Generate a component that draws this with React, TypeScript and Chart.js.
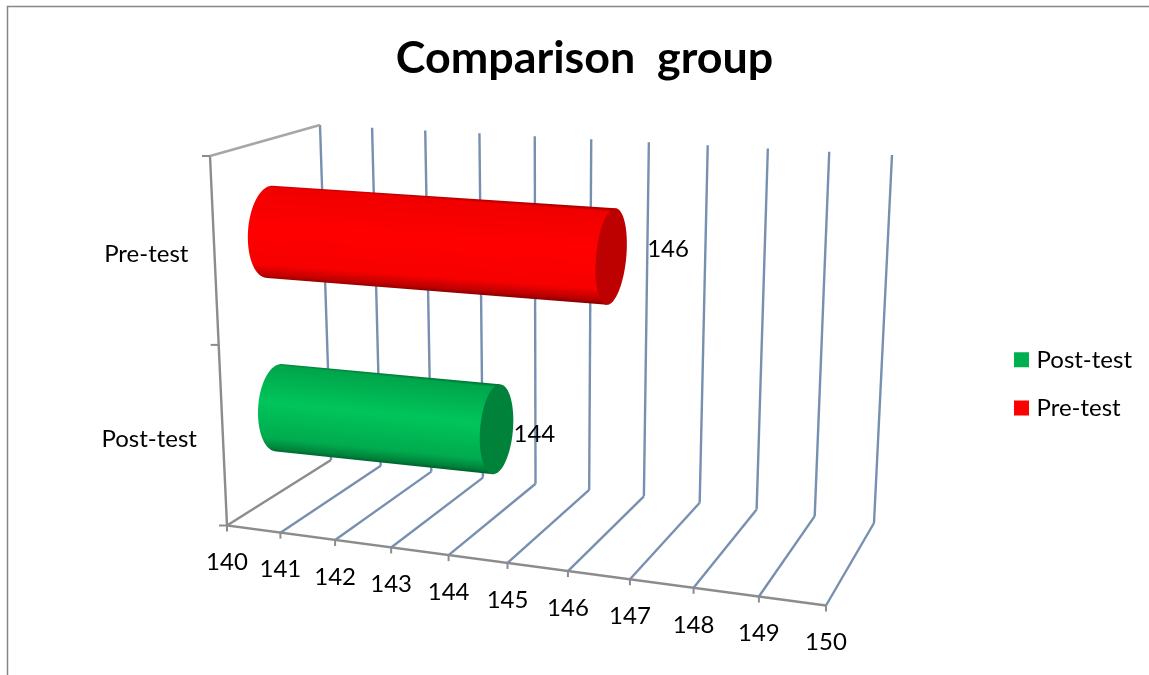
import React, { useEffect, useRef } from "react";
import { Chart, registerables } from "chart.js";

Chart.register(...registerables);

// Chart values
const categories = ["Pre-test", "Post-test"];
const postTestValues = [null, 144];
const preTestValues = [146, null];
const axisMin = 140;
const axisMax = 150;
const axisStep = 1;

const FONT = "Lato, Carlito, Calibri, sans-serif";
const AXIS_GREY = "#8c8c8c";
const WALL_GREY = "#a6a6a6";
const GRID_BLUE = "#7890b0";

type Pt = [number, number];

// Maps the unit square onto a quadrilateral (projective map), so that the
// flat scales of the chart can be laid out on the walls of a 3D box.
function plane(p0: Pt, p1: Pt, p2: Pt, p3: Pt) {
  const dx1 = p1[0] - p2[0], dx2 = p3[0] - p2[0], sx = p0[0] - p1[0] + p2[0] - p3[0];
  const dy1 = p1[1] - p2[1], dy2 = p3[1] - p2[1], sy = p0[1] - p1[1] + p2[1] - p3[1];
  const det = dx1 * dy2 - dx2 * dy1;
  const g = (sx * dy2 - dx2 * sy) / det;
  const h = (dx1 * sy - sx * dy1) / det;
  const a = p1[0] - p0[0] + g * p1[0], b = p3[0] - p0[0] + h * p3[0], c = p0[0];
  const d = p1[1] - p0[1] + g * p1[1], e = p3[1] - p0[1] + h * p3[1], f = p0[1];
  return (u: number, v: number): Pt => {
    const w = g * u + h * v + 1;
    return [(a * u + b * v + c) / w, (d * u + e * v + f) / w];
  };
}

// Box corners on screen
const frontLeft: Pt = [227, 525.5];
const frontRight: Pt = [826, 605.5];
const backLeft: Pt = [331, 460];
const backRight: Pt = [874, 523];
const backTopLeft: Pt = [320, 125];
const backTopRight: Pt = [892, 155];
const frontTopLeft: Pt = [210, 156];

const floorPlane = plane(frontLeft, frontRight, backRight, backLeft);
const backPlane = plane(backLeft, backRight, backTopRight, backTopLeft);
const sidePlane = plane(frontLeft, backLeft, backTopLeft, frontTopLeft);
// Plane through the axis of the cylinders, halfway through the depth of the box
const midPlane = plane([283, 492.5], [848, 555.5], [863, 175.5], [265, 140.5]);

function segment(ctx: CanvasRenderingContext2D, pts: Pt[], color: string, width: number) {
  ctx.beginPath();
  ctx.moveTo(pts[0][0], pts[0][1]);
  pts.slice(1).forEach((p) => ctx.lineTo(p[0], p[1]));
  ctx.strokeStyle = color;
  ctx.lineWidth = width;
  ctx.lineJoin = "miter";
  ctx.stroke();
}

const tone = (rgb: number[], k: number) =>
  `rgb(${rgb.map((c) => Math.min(255, Math.round(c * k))).join(",")})`;

function drawCylinder(
  ctx: CanvasRenderingContext2D,
  u0: number, u1: number, hTop: number, hBottom: number, rgb: number[]
) {
  const end = (u: number) => {
    const top = midPlane(u, hTop);
    const bottom = midPlane(u, hBottom);
    const c: Pt = [(top[0] + bottom[0]) / 2, (top[1] + bottom[1]) / 2];
    const len = Math.hypot(bottom[0] - top[0], bottom[1] - top[1]);
    // The round ends lean to the right at the top
    const a: Pt = [((0.055 + 0.05 * u) * len) / 2, (top[1] - bottom[1]) / 2];
    return { c, a, w: len * (0.235 - 0.13 * u) };
  };
  const s = end(u0);
  const t = end(u1);
  const at = (e: typeof s, ang: number, dir: number): Pt => [
    e.c[0] + e.a[0] * Math.cos(ang) + dir * e.w * Math.sin(ang),
    e.c[1] + e.a[1] * Math.cos(ang),
  ];

  // Body: rounded on the left, straight along both long edges
  ctx.beginPath();
  for (let i = 0; i <= 48; i++) {
    const p = at(s, (Math.PI * i) / 48, -1);
    if (i === 0) ctx.moveTo(p[0], p[1]);
    else ctx.lineTo(p[0], p[1]);
  }
  const tb = at(t, Math.PI, 1);
  const tt = at(t, 0, 1);
  ctx.lineTo(tb[0], tb[1]);
  ctx.lineTo(tt[0], tt[1]);
  ctx.closePath();

  const mx = (s.c[0] + t.c[0]) / 2, my = (s.c[1] + t.c[1]) / 2;
  const ax = t.c[0] - s.c[0], ay = t.c[1] - s.c[1];
  const al = Math.hypot(ax, ay);
  const nx = -ay / al, ny = ax / al;
  const r = (Math.hypot(s.a[0], s.a[1]) + Math.hypot(t.a[0], t.a[1])) / 2;
  const grad = ctx.createLinearGradient(mx - nx * r, my - ny * r, mx + nx * r, my + ny * r);
  grad.addColorStop(0, tone(rgb, 0.68));
  grad.addColorStop(0.03, tone(rgb, 0.94));
  grad.addColorStop(0.45, tone(rgb, 1.12));
  grad.addColorStop(0.85, tone(rgb, 0.97));
  grad.addColorStop(0.96, tone(rgb, 0.74));
  grad.addColorStop(1, tone(rgb, 0.56));
  ctx.fillStyle = grad;
  ctx.fill();

  // End cap
  ctx.beginPath();
  for (let i = 0; i <= 96; i++) {
    const p = at(t, (2 * Math.PI * i) / 96, 1);
    if (i === 0) ctx.moveTo(p[0], p[1]);
    else ctx.lineTo(p[0], p[1]);
  }
  ctx.closePath();
  ctx.fillStyle = tone(rgb, 0.74);
  ctx.fill();
}

// Fill colours as channels, per dataset
const datasetRgb = [[0, 176, 80], [255, 0, 0]];
// Gap between a cylinder's end and its value label, per dataset
const valueLabelShift: Pt[] = [[17, 5], [36, -7.5]];

const boxPlugin = {
  id: "box3d",
  beforeDraw(chart: any) {
    const { ctx, width, height } = chart;
    ctx.save();
    ctx.fillStyle = "#ffffff";
    ctx.fillRect(0, 0, width, height);
    segment(ctx, [[7.5, height], [7.5, 6.5], [width, 6.5]], "#868686", 1.5);
    ctx.restore();
  },
  beforeDatasetsDraw(chart: any) {
    const { ctx, scales } = chart;
    const x = scales.x;
    const y = scales.y;
    const uOf = (v: number) => (x.getPixelForValue(v) - x.left) / x.width;
    const hOf = (px: number) => 1 - (px - y.top) / y.height;
    ctx.save();

    // Grid lines along the floor and up the back wall
    x.ticks.forEach((tick: any) => {
      const u = uOf(tick.value);
      segment(ctx, [backPlane(u, 1), backPlane(u, 0)], GRID_BLUE, 2.4);
      segment(ctx, [backPlane(u, 0), floorPlane(u, 0)], tick.value === axisMin ? AXIS_GREY : GRID_BLUE, 2.4);
    });

    // Side wall and front edge of the floor
    segment(ctx, [frontTopLeft, frontLeft, frontRight], AXIS_GREY, 2.4);
    segment(ctx, [backTopLeft, frontTopLeft], WALL_GREY, 2.4);

    // Value axis ticks and labels
    ctx.font = `24px ${FONT}`;
    ctx.fillStyle = "#000000";
    ctx.textAlign = "center";
    ctx.textBaseline = "middle";
    x.ticks.forEach((tick: any) => {
      const p = floorPlane(uOf(tick.value), 0);
      segment(ctx, [p, [p[0], p[1] + 6]], AXIS_GREY, 2);
      ctx.fillText(String(tick.value), p[0], p[1] + 37);
    });

    // Category axis ticks at the band edges, labels at the band centres
    [0, 0.5, 1].forEach((h) => {
      const p = sidePlane(0, h);
      segment(ctx, [p, [p[0] - 8, p[1]]], AXIS_GREY, 2);
    });
    ctx.textAlign = "right";
    categories.forEach((label, i) => {
      const p = sidePlane(0, hOf(y.getPixelForValue(i)));
      ctx.fillText(label, p[0] - 26, p[1] + 3);
    });
    ctx.restore();
  },
  // The flat bars give way to cylinders drawn from the same elements
  beforeDatasetDraw() {
    return false;
  },
  afterDatasetsDraw(chart: any) {
    const { ctx, scales } = chart;
    const x = scales.x;
    const y = scales.y;
    const uOf = (px: number) => (px - x.left) / x.width;
    const hOf = (px: number) => 1 - (px - y.top) / y.height;
    ctx.save();
    chart.data.datasets.forEach((ds: any, di: number) => {
      chart.getDatasetMeta(di).data.forEach((bar: any, i: number) => {
        const value = ds.data[i];
        if (value == null) return;
        const { x: bx, y: by, height } = bar.getProps(["x", "y", "height"], true);
        const u1 = uOf(bx);
        // Bars start at the axis minimum, not at zero
        const u0 = uOf(x.getPixelForValue(axisMin));
        drawCylinder(ctx, u0, u1, hOf(by - height / 2), hOf(by + height / 2), datasetRgb[di]);
        const c = midPlane(u1, hOf(by));
        ctx.font = `24px ${FONT}`;
        ctx.fillStyle = "#000000";
        ctx.textAlign = "left";
        ctx.textBaseline = "middle";
        ctx.fillText(String(value), c[0] + valueLabelShift[di][0], c[1] + valueLabelShift[di][1]);
      });
    });
    ctx.restore();
  },
};

export default function App() {
  const canvasRef = useRef<HTMLCanvasElement>(null);

  useEffect(() => {
    const chart = new Chart(canvasRef.current as HTMLCanvasElement, {
      type: "bar",
      plugins: [boxPlugin],
      data: {
        labels: categories,
        datasets: [
          { label: "Post-test", data: postTestValues, backgroundColor: "#00B050", borderColor: "#00B050", borderWidth: 9 },
          { label: "Pre-test", data: preTestValues, backgroundColor: "#FF0000", borderColor: "#FF0000", borderWidth: 9 },
        ],
      } as any,
      options: {
        indexAxis: "y",
        responsive: false,
        animation: false,
        events: [],
        grouped: false,
        barPercentage: 0.51,
        categoryPercentage: 1,
        layout: { padding: { left: 27, right: 7 } },
        scales: {
          x: { min: axisMin, max: axisMax, ticks: { stepSize: axisStep }, display: false },
          y: { display: false },
        },
        plugins: {
          title: {
            display: true,
            text: "Comparison  group",
            color: "#000000",
            font: { family: FONT, size: 44.8, weight: "bold" },
            padding: { top: 32, bottom: 7 },
          },
          legend: {
            position: "right",
            fullSize: false,
            labels: {
              color: "#000000",
              boxWidth: 6,
              boxHeight: 6,
              padding: 24.2,
              font: { family: FONT, size: 24 },
            },
          },
          tooltip: { enabled: false },
        },
      } as any,
    });
    return () => chart.destroy();
  }, []);

  return (
    <canvas
      ref={canvasRef}
      width={1149}
      height={675}
      style={{ position: "absolute", left: 0, top: 0, display: "block" }}
    />
  );
}
